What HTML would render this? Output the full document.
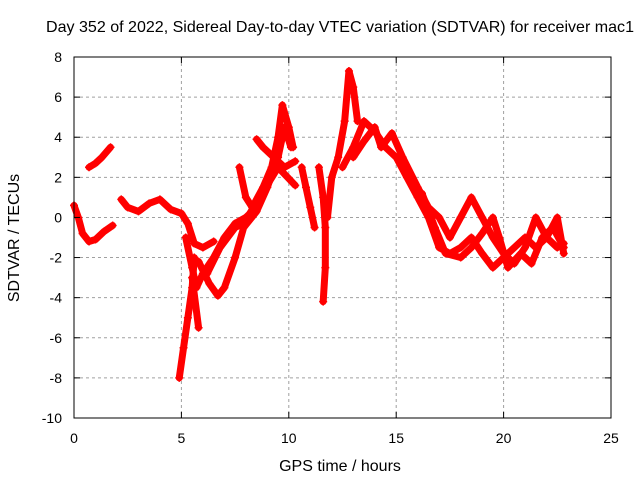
<!DOCTYPE html>
<html><head><meta charset="utf-8"><style>
body{margin:0;background:#fff}
svg text{font-family:"Liberation Sans",sans-serif;font-size:14px;fill:#000}
svg text.big{font-size:16px}
</style></head><body>
<svg id="chart" width="640" height="480" xmlns="http://www.w3.org/2000/svg">
<text class="big" x="340" y="32" text-anchor="middle" textLength="588" lengthAdjust="spacingAndGlyphs">Day 352 of 2022, Sidereal Day-to-day VTEC variation (SDTVAR) for receiver mac1</text>
<text class="big" x="340" y="471" text-anchor="middle">GPS time / hours</text>
<text class="big" transform="translate(19,238) rotate(-90)" text-anchor="middle">SDTVAR / TECUs</text>
<g id="grid"></g><g id="marks"></g>
<rect x="74" y="57" width="537" height="361" fill="none" stroke="#000" stroke-width="1"/>
<g id="ticks"></g>
</svg>
<script>
const xTicks=[0,5,10,15,20,25];
const yTicks=[-10,-8,-6,-4,-2,0,2,4,6,8];
const track1=[[0,0.6],[0.2,0],[0.4,-0.8],[0.7,-1.2],[1.0,-1.1],[1.4,-0.7],[1.8,-0.4]];
const track2=[[0.7,2.5],[1.0,2.7],[1.3,3.0],[1.7,3.5]];
const track3=[[2.2,0.9],[2.5,0.5],[3,0.3],[3.5,0.7],[4.0,0.9],[4.5,0.4],[5.0,0.2],[5.3,-0.3],[5.6,-1.3],[6.0,-1.5],[6.5,-1.2]];
const track4=[[5.2,-1],[5.5,-2.5],[5.7,-3.5],[6.0,-2.8],[6.5,-2],[7,-1],[7.5,-0.3],[8,0],[8.5,0.5]];
const track5=[[5.6,-2],[5.5,-3.5],[5.3,-5],[5.1,-6.5],[4.9,-8.0]];
const track6=[[5.5,-3],[5.8,-5.5]];
const track7=[[5.8,-2.2],[6.3,-3.3],[6.7,-3.9],[7.0,-3.5],[7.5,-2],[7.9,-0.5],[8.5,0.3],[9,1.5],[9.5,3],[9.8,4.5],[10.1,3.5]];
const track8=[[7.7,2.5],[8,1],[8.3,0.5],[8.8,1.5],[9.2,2.5],[9.5,4],[9.7,5.6],[10,4.5],[10.2,3.5]];
const track9=[[8.5,3.9],[8.8,3.5],[9.3,3.0],[9.8,2.5],[10.3,2.8]];
const track10=[[6.2,-2.8],[6.8,-1.5],[7.5,-0.5],[7.9,-0.3],[9.5,2.5],[10.3,1.6]];
const track11=[[10.6,2.5],[10.8,1.5],[11,0.5],[11.2,-0.5]];
const track12=[[11.4,2.5],[11.6,1],[11.7,-0.5],[11.7,-2.5],[11.6,-4.2]];
const track13=[[11.8,0],[12,2],[12.3,3],[12.6,4.8],[12.8,7.3],[13.0,6.5],[13.2,4.8]];
const track14=[[12.5,2.5],[13,3.5],[13.5,4.8],[14,4.3],[14.5,3.5],[15,3],[15.5,2],[16,1],[16.5,0],[17,-1.5],[17.5,-1.8],[18,-1.5],[18.5,-1],[19,-1.8],[19.5,-2.5],[20,-2],[20.5,-1.5],[21,-1],[21.5,-1.5],[22,-1],[22.5,-1.5],[22.8,-1.3]];
const track15=[[13,3],[13.5,3.8],[14,4.5],[14.3,3.5],[14.8,4.2],[15.3,3],[16,1.5],[16.5,0.5],[17,0],[17.5,-1],[18,0],[18.5,1],[19,0],[19.5,-1],[20,-1.8],[20.5,-2.3],[21,-1.5],[21.5,0],[22,-1],[22.5,0],[22.8,-1.8]];
const track16=[[16.2,1.2],[16.8,-0.5],[17.3,-1.8],[18,-2],[18.5,-1.5],[19,-0.8],[19.5,0],[19.8,-1],[20.2,-2.5],[20.8,-1.8],[21.3,-2.3],[21.8,-1],[22.3,-0.5],[22.8,-1.5]];
const tracks=[track1,track2,track3,track4,track5,track6,track7,track8,track9,track10,track11,track12,track13,track14,track15,track16];
const NS="http://www.w3.org/2000/svg";
const X0=74,X1=611,Y0=418,Y1=57;
const sx=v=>X0+(v-0)/(25-0)*(X1-X0);
const sy=v=>Y0-(v+10)/(18)*(Y0-Y1);
const grid=document.getElementById('grid'),ticks=document.getElementById('ticks'),marks=document.getElementById('marks');
function mk(t,a,p){const e=document.createElementNS(NS,t);for(const k in a)e.setAttribute(k,a[k]);p.appendChild(e);return e;}
xTicks.forEach(v=>{
 const x=sx(v);
 if(v>0&&v<25){const g=mk('line',{x1:x,x2:x,y1:Y1,y2:Y0,stroke:'#a0a0a0','stroke-dasharray':'3,3'},grid);
 
 }
 mk('line',{x1:x,x2:x,y1:Y0,y2:Y0-6,stroke:'#000'},ticks);
 mk('line',{x1:x,x2:x,y1:Y1,y2:Y1+6,stroke:'#000'},ticks);
 const t=mk('text',{x:x,y:Y0+25,'text-anchor':'middle'},ticks);t.textContent=v;
 
 
});
yTicks.forEach(v=>{
 const y=sy(v);
 if(v>-10&&v<8){const g=mk('line',{x1:X0,x2:X1,y1:y,y2:y,stroke:'#a0a0a0','stroke-dasharray':'3,3'},grid);
 
 }
 mk('line',{x1:X0,x2:X0+6,y1:y,y2:y,stroke:'#000'},ticks);
 mk('line',{x1:X1,x2:X1-6,y1:y,y2:y,stroke:'#000'},ticks);
 const t=mk('text',{x:X0-12,y:y+5,'text-anchor':'end'},ticks);t.textContent=v;
 
 
});
tracks.forEach((tr,i)=>{
 const pts=tr.map(p=>sx(p[0])+','+sy(p[1])).join(' ');
 const pl=mk('polyline',{points:pts,fill:'none',stroke:'#ff0000','stroke-width':7,'stroke-linejoin':'round','stroke-linecap':'round'},marks);
 
 
 tr.forEach(p=>{
  const x=sx(p[0]),y=sy(p[1]);
  const m=mk('path',{d:`M${x-4},${y}H${x+4}M${x},${y-4}V${y+4}`,stroke:'#ff0000','stroke-width':1.5},marks);
  
  
 });
});
</script>
</body></html>
